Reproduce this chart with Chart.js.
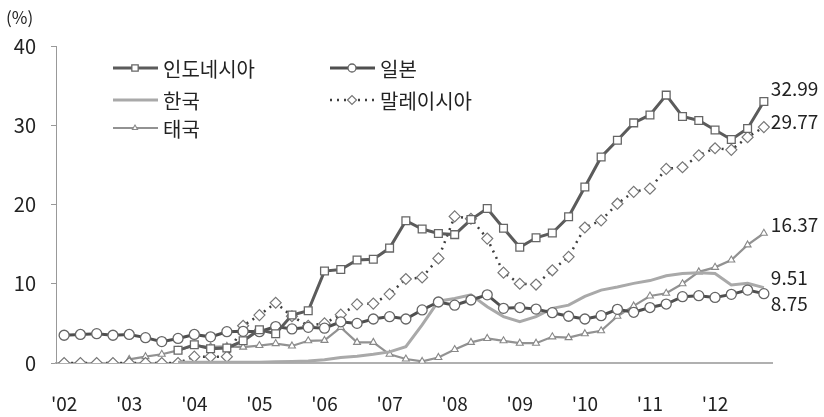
<!DOCTYPE html>
<html>
<head>
<meta charset="utf-8">
<script src="https://cdn.jsdelivr.net/npm/chart.js@4.4.1/dist/chart.umd.min.js"></script>
<style>
  html, body { margin: 0; padding: 0; background: #fff; }
  #wrap { width: 824px; height: 417px; position: relative; }
</style>
</head>
<body>
<div id="wrap"><canvas id="shareChart"></canvas></div>
<script>
// quarterly, 2002 Q1 .. 2012 Q4
const quarters = [
  '02Q1','02Q2','02Q3','02Q4','03Q1','03Q2','03Q3','03Q4','04Q1','04Q2','04Q3','04Q4',
  '05Q1','05Q2','05Q3','05Q4','06Q1','06Q2','06Q3','06Q4','07Q1','07Q2','07Q3','07Q4',
  '08Q1','08Q2','08Q3','08Q4','09Q1','09Q2','09Q3','09Q4','10Q1','10Q2','10Q3','10Q4',
  '11Q1','11Q2','11Q3','11Q4','12Q1','12Q2','12Q3','12Q4'
];
const yearTicks = ["'02", "'03", "'04", "'05", "'06", "'07", "'08", "'09", "'10", "'11", "'12"];
const yTicks = [0, 10, 20, 30, 40];

const seriesNames = ['인도네시아', '일본', '한국', '말레이시아', '태국'];

const indonesia = [null, null, null, null, null, null, null, 1.6, 2.3, 1.8, 1.9, 2.8, 4.2, 3.7, 6.05, 6.6,
  11.6, 11.8, 13.0, 13.1, 14.5, 17.95, 16.9, 16.35, 16.2, 18.1, 19.5, 17.0, 14.6, 15.8, 16.4, 18.45,
  22.2, 26.0, 28.1, 30.3, 31.3, 33.8, 31.1, 30.6, 29.4, 28.2, 29.6, 32.99];
const japan = [3.5, 3.6, 3.7, 3.5, 3.6, 3.2, 2.7, 3.1, 3.6, 3.3, 3.95, 4.0, 3.95, 4.6, 4.3, 4.5,
  4.4, 5.2, 5.0, 5.55, 5.85, 5.55, 6.7, 7.7, 7.3, 7.95, 8.6, 6.9, 7.0, 6.8, 6.35, 5.9,
  5.55, 5.97, 6.77, 6.4, 7.0, 7.44, 8.37, 8.5, 8.28, 8.66, 9.2, 8.75];
const korea = [null, null, null, null, null, null, null, 0.1, 0.1, 0.1, 0.1, 0.1, 0.1, 0.15, 0.2, 0.25,
  0.4, 0.7, 0.85, 1.1, 1.4, 2.05, 4.8, 7.8, 8.15, 8.6, 7.1, 5.85, 5.2, 5.85, 6.9, 7.3,
  8.4, 9.2, 9.6, 10.05, 10.4, 11.0, 11.3, 11.4, 11.3, 9.85, 10.05, 9.51];
const malaysia = [0, 0, 0, 0, 0, 0, 0, 0, 0.8, 0.8, 0.8, 4.7, 6.05, 7.6, 5.9, 4.7,
  5.0, 6.1, 7.4, 7.5, 8.7, 10.6, 10.8, 13.2, 18.5, 18.2, 15.7, 11.4, 10.0, 9.9, 11.7, 13.4,
  17.1, 18.0, 20.1, 21.6, 22.0, 24.5, 24.7, 26.2, 27.1, 26.9, 28.5, 29.77];
const thailand = [null, null, null, null, 0.45, 0.8, 1.1, 1.6, 2.2, 2.05, 2.1, 2.0, 2.2, 2.45, 2.15, 2.8,
  2.85, 4.5, 2.6, 2.6, 1.1, 0.5, 0.2, 0.7, 1.7, 2.6, 3.1, 2.8, 2.5, 2.5, 3.3, 3.2,
  3.7, 4.07, 5.9, 7.2, 8.45, 8.8, 10.0, 11.5, 12.07, 13.0, 14.9, 16.37];

const FONT = '"Noto Sans CJK KR", "Noto Sans", sans-serif';

// legend drawn inside the plot, two columns
const legendSlots = [
  { x: 113, y: 68 }, { x: 330, y: 68 },
  { x: 113, y: 100 }, { x: 330, y: 100 },
  { x: 113, y: 128 }
];
// vertical offsets of the end-of-line value labels
const endLabelShift = [-13, 10, -10, -5, -8];

const insideLegend = {
  id: 'insideLegend',
  afterDraw(chart) {
    const ctx = chart.ctx;
    ctx.save();
    ctx.font = '17px ' + FONT;
    ctx.fillStyle = '#222';
    ctx.textBaseline = 'middle';
    ctx.fillText('(%)', 6, 18);

    ctx.font = '20px ' + FONT;
    chart.data.datasets.forEach((ds, i) => {
      const s = legendSlots[i];
      ctx.save();
      ctx.strokeStyle = ds.borderColor;
      ctx.lineWidth = ds.borderWidth;
      ctx.setLineDash(ds.borderDash || []);
      ctx.beginPath();
      ctx.moveTo(s.x, s.y);
      ctx.lineTo(s.x + 45, s.y);
      ctx.stroke();
      ctx.setLineDash([]);
      if (ds.pointRadius > 0) {
        ctx.fillStyle = ds.pointBackgroundColor;
        ctx.strokeStyle = ds.pointBorderColor;
        ctx.lineWidth = ds.pointBorderWidth;
        Chart.helpers.drawPoint(ctx, {
          pointStyle: ds.pointStyle, rotation: 0,
          radius: ds.pointRadius - 1, borderWidth: ds.pointBorderWidth
        }, s.x + 22, s.y);
      }
      ctx.restore();
      ctx.fillStyle = '#222';
      ctx.fillText(ds.label, s.x + 50, s.y + 1);
    });
    ctx.restore();
  }
};

const endLabels = {
  id: 'endLabels',
  afterDatasetsDraw(chart) {
    const ctx = chart.ctx;
    ctx.save();
    ctx.font = '19px ' + FONT;
    ctx.fillStyle = '#222';
    ctx.textBaseline = 'middle';
    chart.data.datasets.forEach((ds, i) => {
      const meta = chart.getDatasetMeta(i);
      const last = ds.data.length - 1;
      const pt = meta.data[last];
      ctx.fillText(ds.data[last].toFixed(2), pt.x + 7, pt.y + endLabelShift[i]);
    });
    ctx.restore();
  }
};

function makeChart() {
  const ctx = document.getElementById('shareChart');
  new Chart(ctx, {
    type: 'line',
    data: {
      labels: quarters,
      datasets: [
        {
          label: seriesNames[0], data: indonesia,
          borderColor: '#5b5b5b', borderWidth: 3,
          pointStyle: 'rect', pointRadius: 5.5, pointBorderWidth: 1.3,
          pointBackgroundColor: '#fff', pointBorderColor: '#666'
        },
        {
          label: seriesNames[1], data: japan,
          borderColor: '#4f4f4f', borderWidth: 3,
          pointStyle: 'circle', pointRadius: 5, pointBorderWidth: 1.3,
          pointBackgroundColor: '#fff', pointBorderColor: '#666'
        },
        {
          label: seriesNames[2], data: korea,
          borderColor: '#a9a9a9', borderWidth: 3,
          pointRadius: 0
        },
        {
          label: seriesNames[3], data: malaysia,
          borderColor: '#3f3f3f', borderWidth: 2.5, borderDash: [2, 5],
          pointStyle: 'rectRot', pointRadius: 5.5, pointBorderWidth: 1.2,
          pointBackgroundColor: '#fff', pointBorderColor: '#777'
        },
        {
          label: seriesNames[4], data: thailand,
          borderColor: '#929292', borderWidth: 2.2,
          pointStyle: 'triangle', pointRadius: 4, pointBorderWidth: 1.1,
          pointBackgroundColor: '#fff', pointBorderColor: '#888'
        }
      ]
    },
    options: {
      responsive: false,
      animation: false,
      layout: { padding: { top: 46, right: 52, left: 0, bottom: 0 } },
      elements: { line: { tension: 0 } },
      scales: {
        x: {
          type: 'category',
          offset: true,
          grid: { display: false },
          border: { display: true, color: '#b0b0b0', width: 2 },
          ticks: {
            autoSkip: false, maxRotation: 0, padding: 21,
            color: '#222', font: { family: FONT, size: 19 },
            callback: (v, i) => (i % 4 === 0 ? yearTicks[i / 4] : '')
          },
          afterFit: (scale) => { scale.height = 54; }
        },
        y: {
          min: 0, max: 40,
          grid: { drawOnChartArea: false, drawTicks: true, tickLength: 5, color: '#999' },
          border: { display: true, color: '#999', width: 1 },
          afterBuildTicks: (scale) => { scale.ticks = yTicks.map(v => ({ value: v })); },
          ticks: {
            padding: 15, color: '#222', font: { family: FONT, size: 20 }
          },
          afterFit: (scale) => { scale.width = 56; }
        }
      },
      plugins: {
        legend: { display: false },
        tooltip: { enabled: false }
      }
    },
    plugins: [insideLegend, endLabels]
  });
}

document.addEventListener('DOMContentLoaded', function() {
  const canvas = document.getElementById('shareChart');
  canvas.width = 824;
  canvas.height = 417;
  makeChart();
});
</script>
</body>
</html>
